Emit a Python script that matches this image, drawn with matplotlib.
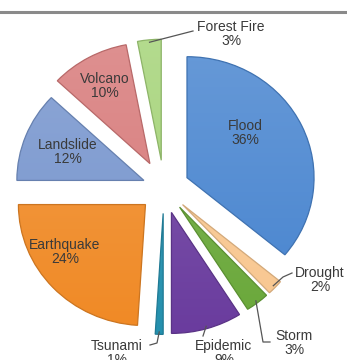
import numpy as np
import matplotlib.pyplot as plt
from matplotlib.colors import to_rgb

# Disaster shares, clockwise from 12 o'clock
labels = ['Flood', 'Drought', 'Storm', 'Epidemic', 'Tsunami',
          'Earthquake', 'Landslide', 'Volcano', 'Forest Fire']
shares = [36, 2, 3, 9, 1, 24, 12, 10, 3]
colors = ['#4a86d0', '#f8c790', '#6aa83a', '#6a3c9e', '#2490ae',
          '#f08a26', '#7896ce', '#d87c7c', '#a6d47a']
explode = [0.20, 0.20, 0.20, 0.21, 0.21, 0.20, 0.17, 0.23, 0.23]

W, H = 347, 360
SX = 1.05      # pie is a little wider than tall
R = 121

def px(x, y):
    """pixel position (top-left origin) -> data coords"""
    return x / SX, H - y

fig = plt.figure(figsize=(W / 100, H / 100), dpi=100)
ax = fig.add_axes([0, 0, 1, 1])

# pie's explode is in data units, so scale by the radius
wedges, _ = ax.pie(shares, colors=colors, explode=[e * R for e in explode],
                   startangle=90, counterclock=False, radius=R,
                   center=px(164, 188))

# soft top-to-bottom shading inside every wedge, clipped to its outline
for w, c in zip(wedges, colors):
    base = np.array(to_rgb(c))
    light = base + (1 - base) * 0.15
    t = np.linspace(0, 1, 64)[:, None, None]
    grad = light * (1 - t) + base * t
    cx, cy = w.center
    im = ax.imshow(grad, extent=(cx - w.r, cx + w.r, cy - w.r, cy + w.r),
                   origin='upper', aspect='auto', zorder=w.get_zorder() + 0.1,
                   interpolation='bilinear')
    im.set_clip_path(w)
    w.set_edgecolor(tuple(base * 0.85))
    w.set_linewidth(0.9)
    w.set_zorder(w.get_zorder() + 0.2)
    w.set_facecolor('none')

ax.set_aspect('auto')
ax.set_xlim(0, W / SX)
ax.set_ylim(0, H)
ax.axis('off')

font = dict(family=['Liberation Sans', 'DejaVu Sans'], fontsize=10,
            color='#3a3a3a', ha='center', va='center', linespacing=1.05,
            zorder=5)

def text_for(i):
    return '{}\n{}%'.format(labels[i], shares[i])

# labels sitting inside the larger wedges
inside = {0: (245, 133), 5: (65, 252), 6: (68, 152), 7: (105, 86)}
for i, (x, y) in inside.items():
    ax.text(*px(x, y), text_for(i), **font)

def anchor(i):
    """midpoint of a wedge's outer arc"""
    w = wedges[i]
    a = np.deg2rad((w.theta1 + w.theta2) / 2)
    cx, cy = w.center
    return cx + w.r * np.cos(a) * 0.98, cy + w.r * np.sin(a) * 0.98

# labels outside with leader lines: (elbow points, text position)
outside = {
    8: ([(193, 31)], (231, 34)),
    1: ([(283, 277), (292, 273)], (320, 280)),
    2: ([(263, 342), (270, 342)], (294, 343)),
    3: ([(203, 336)], (224, 353)),
    4: ([(157, 343), (150, 345)], (117, 353)),
}
for i, (elbows, (tx, ty)) in outside.items():
    pts = [anchor(i)] + [px(x, y) for x, y in elbows]
    xs, ys = zip(*pts)
    ax.plot(xs, ys, color='#555555', lw=0.9, zorder=4)
    ax.text(*px(tx, ty), text_for(i), **font)

# grey frame edge along the top
ax.axhline(H - 11.5, color='#8a8a8a', lw=2.2)

fig.savefig('out.png', dpi=100)
